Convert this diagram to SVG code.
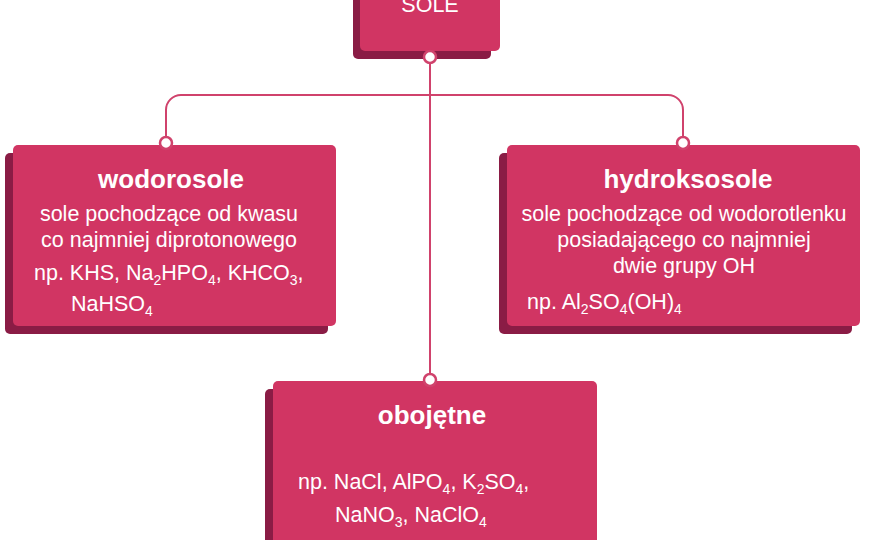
<svg xmlns="http://www.w3.org/2000/svg" width="880" height="540" viewBox="0 0 880 540">
<style>
.sh{fill:#8a1c45}.fr{fill:#d13563}
.t{font-family:"Liberation Sans",Arial,sans-serif;fill:#fff;font-size:21.5px}
.b{font-weight:bold;font-size:26px}
.c{fill:none;stroke:#d0426c;stroke-width:2}
.dot{fill:#fff;stroke:#d0426c;stroke-width:2.5}
.s{font-size:14px}
</style>
<rect width="880" height="540" fill="#fff"/>
<g id="connectors">
<path class="c" d="M430 57V380M166 143V110a15 15 0 0 1 15-15H668a15 15 0 0 1 15 15V143"/>
</g>
<g id="sole">
<rect class="sh" x="353" y="-10" width="138" height="69" rx="5"/>
<rect class="fr" x="360" y="-10" width="140" height="61" rx="5"/>
<text class="t" x="430" y="12" text-anchor="middle" font-size="23">SOLE</text>
</g>
<g id="wodorosole">
<rect class="sh" x="5" y="153" width="323" height="181" rx="5"/>
<rect class="fr" x="13" y="145" width="323" height="181" rx="5"/>
<text class="t b" x="171" y="188" text-anchor="middle">wodorosole</text>
<text class="t" x="169" y="221" text-anchor="middle">sole pochodzące od kwasu</text>
<text class="t" x="169" y="247" text-anchor="middle">co najmniej diprotonowego</text>
<text class="t" x="34" y="280">np. KHS, Na<tspan class="s" dy="5">2</tspan><tspan dy="-5">HPO</tspan><tspan class="s" dy="5">4</tspan><tspan dy="-5">, KHCO</tspan><tspan class="s" dy="5">3</tspan><tspan dy="-5">,</tspan></text>
<text class="t" x="71" y="311">NaHSO<tspan class="s" dy="5">4</tspan></text>
</g>
<g id="hydroksosole">
<rect class="sh" x="499" y="153" width="353" height="181" rx="5"/>
<rect class="fr" x="507" y="145" width="353" height="181" rx="5"/>
<text class="t b" x="688" y="188" text-anchor="middle">hydroksosole</text>
<text class="t" x="684" y="221" text-anchor="middle">sole pochodzące od wodorotlenku</text>
<text class="t" x="684" y="247" text-anchor="middle">posiadającego co najmniej</text>
<text class="t" x="684" y="273" text-anchor="middle">dwie grupy OH</text>
<text class="t" x="527" y="309">np.  Al<tspan class="s" dy="5">2</tspan><tspan dy="-5">SO</tspan><tspan class="s" dy="5">4</tspan><tspan dy="-5">(OH)</tspan><tspan class="s" dy="5">4</tspan></text>
</g>
<g id="obojetne">
<rect class="sh" x="265" y="389" width="324" height="170" rx="5"/>
<rect class="fr" x="273" y="381" width="324" height="170" rx="5"/>
<text class="t b" x="432" y="424" text-anchor="middle">obojętne</text>
<text class="t" x="298" y="489">np. NaCl, AlPO<tspan class="s" dy="5">4</tspan><tspan dy="-5">, K</tspan><tspan class="s" dy="5">2</tspan><tspan dy="-5">SO</tspan><tspan class="s" dy="5">4</tspan><tspan dy="-5">,</tspan></text>
<text class="t" x="335" y="522">NaNO<tspan class="s" dy="5">3</tspan><tspan dy="-5">, NaClO</tspan><tspan class="s" dy="5">4</tspan></text>
</g>
<g id="dots">
<circle class="dot" cx="430" cy="57" r="6"/>
<circle class="dot" cx="166" cy="143" r="6"/>
<circle class="dot" cx="683" cy="143" r="6"/>
<circle class="dot" cx="430" cy="380" r="6"/>
</g>
</svg>
